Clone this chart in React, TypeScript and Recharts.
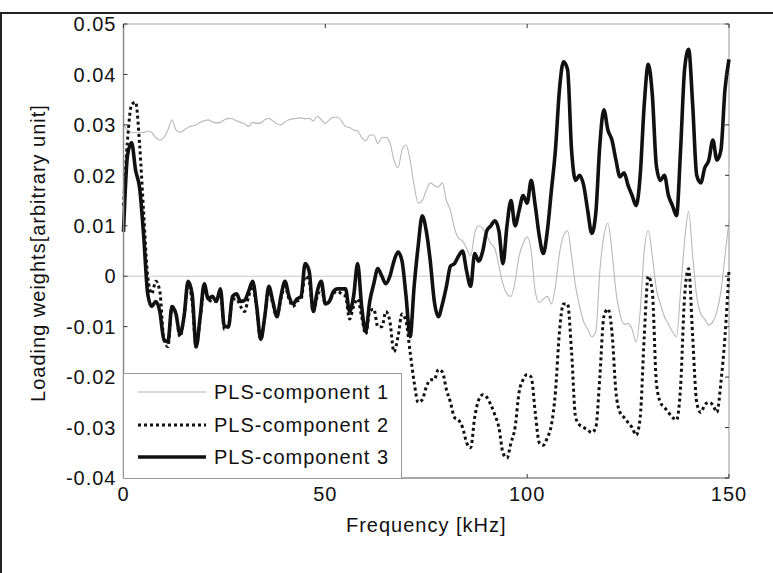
import React from "react";
import { LineChart, Line, XAxis, YAxis, ReferenceLine, Label } from "recharts";

// frequency grid, kHz
const freq = Array.from({ length: 151 }, (_, i) => i);

// loading weights, in units of 0.001
const pls1 = [
  30, 29, 28.5, 28.5, 28.5, 28.5, 28.8, 28.5, 27.5, 27,
  27.5, 29, 31, 29, 28.5, 29, 29.5, 29.8, 30, 30.5,
  30.8, 31, 30.6, 30.4, 30.5, 31, 31.3, 31.2, 30.8, 30.5,
  30.2, 29.7, 30.5, 30.3, 30.4, 31, 31.3, 30.8, 30.2, 30,
  30.6, 31, 31.2, 31.3, 31.4, 31.2, 31.3, 30.8, 31.7, 31,
  30.3, 31, 31.5, 31.5, 30.8, 29.7, 29.5, 29, 28.8, 27.5,
  26.8, 28, 28, 26.3, 27.5, 27.5, 26.5, 23, 21.5, 25,
  26, 23, 18, 14.5, 15, 17, 18.5, 18, 17.7, 18.5,
  15, 13, 9.5, 7.5, 7, 5.5, 4, 8.5, 10, 9.5,
  8, 6.5, 5.5, 2, -1.5, -3.5, -4, -1, 4, 6.5,
  7.8, 5, -3, -5.2, -4.5, -4, -5.5, -2, 4.5, 8,
  9, 4, -2, -6, -9, -10.5, -12, -11, 1, 8,
  10.5, 5, -3, -7.5, -9.5, -9.4, -10.5, -13, -7, 5,
  9, 4, -2.5, -5.5, -8, -9.5, -11, -12, -3, 7,
  12.8, 4, -4, -7.5, -8.5, -9.7, -9, -7, -3, 4, 11,
];

const pls2 = [
  14, 27, 34, 34.5, 26, 12.5, 0, -3.5, -1, -3,
  -12.5, -14, -6, -7.5, -12, -8, -1.5, -5, -14, -8.5,
  -2.5, -4.5, -5, -5, -3, -10.5, -10, -4.5, -4.5, -6,
  -7, -4, -2, -6.5, -12.5, -8, -2.5, -5.5, -8, -4.5,
  -2, -4.5, -6, -5, -4.5, 0, -1, -7, -4, -2.5,
  -5.5, -5, -3.5, -3, -3.5, -4, -8.5, -6, -4.5, -8,
  -11.5, -7, -6.5, -10, -10, -7, -9, -15, -12, -7.5,
  -9, -15, -21, -25, -24.5, -22, -20.5, -20.5, -18.5, -19,
  -22.5, -25, -28, -28.5, -30, -33, -34, -28, -24.5, -23.5,
  -24, -25.5, -27.5, -30, -35, -36, -33, -30, -23, -20.5,
  -19.5, -20, -27, -33, -33.5, -32, -29.5, -23, -11, -5.5,
  -5.5, -15, -28, -29.5, -30, -30.5, -31, -30, -20, -8,
  -6.5, -11, -23, -27, -28, -29, -30, -31.5, -28, -12,
  0, -3, -21, -25, -26, -27, -28, -28.5, -22, -4,
  1.5, -12, -25, -27, -25.5, -25, -25.5, -27, -21, -12, 1.2,
];

const pls3 = [
  8.8, 24, 26.5, 21, 17.5, 8, -3.5, -6, -5, -7,
  -12.5, -13, -6, -7.5, -11.5, -8, -1, -3.5, -14, -8,
  -1.5, -4.5, -4, -5, -2.5, -10, -10, -4, -3.5, -5,
  -4.8, -3, -1, -6, -12.5, -8, -2, -5, -8, -4,
  -1, -4, -5.5, -4.5, -4, 2.5, 1, -7, -3, -1,
  -5.5, -5, -3, -2.5, -2.5, -2.5, -7, -4, 2.5, -6,
  -11, -5, -1.5, 1.5, 0, -1.5, 0, 3, 4.8, 3,
  -4, -12, -2, 6, 12, 9, 3, -5, -8, -5.5,
  -2, 2, 2.5, 4, 5, 1, -2, 4.5, 3, 5,
  9, 10, 11, 9, 2.5, 10, 15, 10, 13, 16,
  14.5, 19, 14, 8, 4.5, 9, 17, 25, 37, 42.5,
  41, 25, 19, 20, 18, 13, 8.5, 12.5, 26, 33,
  29, 27, 23, 19.7, 20.5, 18, 16, 14, 20, 34,
  42, 36, 22, 19, 20, 16, 14, 12, 25, 41,
  45, 34, 20, 18.5, 21.5, 23, 27, 23, 25, 37, 43,
];

const seriesNames = ["PLS-component 1", "PLS-component 2", "PLS-component 3"];
const xTicks = [0, 50, 100, 150];
const yTicks = [-40, -30, -20, -10, 0, 10, 20, 30, 40, 50];

const data = freq.map((f, i) => ({ f, c1: pls1[i], c2: pls2[i], c3: pls3[i] }));

const FONT = "'Liberation Sans', Arial, Helvetica, sans-serif";
const W = 773;
const H = 573;
const PLOT_L = 123.5;
const PLOT_R = 729;
const PLOT_T = 24;
const PLOT_B = 478;

const lineStyles = [
  { key: "c1", stroke: "#b8b8b8", width: 1.1, dash: undefined as string | undefined },
  { key: "c2", stroke: "#111", width: 3, dash: "3 3" },
  { key: "c3", stroke: "#111", width: 3.6, dash: undefined as string | undefined },
];

const fmt = (v: number) => (v === 0 ? "0" : (v / 1000).toFixed(2));

const textProps = { fontFamily: FONT, fontSize: 20, letterSpacing: 1, fill: "#111" };

const YTick = (props: any) => {
  const { x, y, payload } = props;
  return (
    <g>
      <line x1={PLOT_L} x2={PLOT_L + 4} y1={y} y2={y} stroke="#333" />
      <line x1={PLOT_R} x2={PLOT_R - 4} y1={y} y2={y} stroke="#333" />
      <text x={x} y={y} dy="0.36em" textAnchor="end" {...textProps}>
        {fmt(payload.value)}
      </text>
    </g>
  );
};

const XTick = (props: any) => {
  const { x, y, payload } = props;
  return (
    <g>
      <line x1={x} x2={x} y1={PLOT_B} y2={PLOT_B - 4} stroke="#333" />
      <line x1={x} x2={x} y1={PLOT_T} y2={PLOT_T + 4} stroke="#333" />
      <text x={x} y={y} dy="0.71em" textAnchor="middle" {...textProps}>
        {payload.value}
      </text>
    </g>
  );
};

function LegendBox() {
  const rows = [19, 52, 84];
  return (
    <svg
      width={279}
      height={106}
      style={{ position: "absolute", left: PLOT_L - 0.5, top: 372.5 }}
    >
      <rect x={0.5} y={0.5} width={278} height={105} fill="#fff" stroke="#999" />
      {seriesNames.map((name, i) => (
        <g key={name}>
          <line
            x1={15}
            x2={83}
            y1={rows[i]}
            y2={rows[i]}
            stroke={lineStyles[i].stroke}
            strokeWidth={lineStyles[i].width}
            strokeDasharray={lineStyles[i].dash}
          />
          <text x={91} y={rows[i] + 7} {...textProps}>
            {name}
          </text>
        </g>
      ))}
    </svg>
  );
}

export default function App() {
  return (
    <div style={{ position: "absolute", left: 0, top: 0, width: W, height: H, background: "#fff" }}>
      <div
        style={{
          position: "absolute",
          left: 0,
          top: 12,
          width: W,
          height: H - 12,
          boxSizing: "border-box",
          borderTop: "2px solid #222",
          borderLeft: "2px solid #222",
        }}
      />
      <LineChart
        width={W}
        height={H}
        data={data}
        margin={{ top: PLOT_T, right: W - PLOT_R, bottom: 35, left: 0 }}
        style={{ position: "absolute", left: 0, top: 0 }}
      >
        <XAxis
          dataKey="f"
          type="number"
          domain={[0, 150]}
          ticks={xTicks}
          tick={<XTick />}
          tickSize={0}
          tickMargin={9}
          tickLine={false}
          height={60}
          axisLine={{ stroke: "#8c8c8c", strokeWidth: 1.5 }}
        >
          <Label
            content={(p: any) => {
              const vb = p.viewBox;
              return (
                <text x={vb.x + vb.width / 2} y={vb.y + 54} textAnchor="middle" {...textProps}>
                  Frequency [kHz]
                </text>
              );
            }}
          />
        </XAxis>
        <YAxis
          type="number"
          domain={[-40, 50]}
          ticks={yTicks}
          tick={<YTick />}
          tickSize={0}
          tickMargin={7}
          tickLine={false}
          width={PLOT_L}
          axisLine={{ stroke: "#8c8c8c", strokeWidth: 1.5 }}
        >
          <Label
            content={(p: any) => {
              const vb = p.viewBox;
              const cx = 45;
              const cy = vb.y + vb.height / 2 + 2;
              return (
                <text
                  x={cx}
                  y={cy}
                  textAnchor="middle"
                  transform={`rotate(-90, ${cx}, ${cy})`}
                  {...textProps}
                >
                  Loading weights[arbitrary unit]
                </text>
              );
            }}
          />
        </YAxis>
        <ReferenceLine y={50} stroke="#a8a8a8" strokeWidth={1.2} />
        <ReferenceLine x={150} stroke="#a8a8a8" strokeWidth={1.2} />
        <ReferenceLine y={0} stroke="#c8c8c8" strokeWidth={1} />
        {lineStyles.map((s, i) => (
          <Line
            key={s.key}
            name={seriesNames[i]}
            type="monotone"
            dataKey={s.key}
            stroke={s.stroke}
            strokeWidth={s.width}
            strokeDasharray={s.dash}
            dot={false}
            activeDot={false}
            isAnimationActive={false}
          />
        ))}
      </LineChart>
      <LegendBox />
    </div>
  );
}
